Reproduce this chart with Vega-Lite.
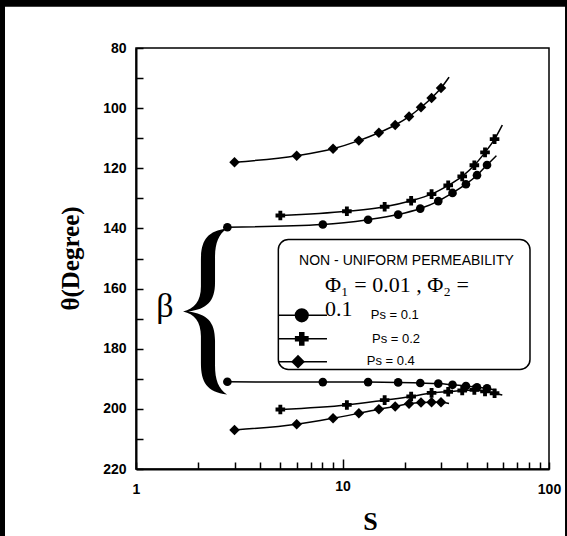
{
  "$schema": "https://vega.github.io/schema/vega-lite/v6.json",
  "width": 413,
  "height": 421,
  "autosize": {"type": "none"},
  "padding": {"left": 136, "top": 48, "right": 18, "bottom": 67},
  "background": "white",
  "config": {
    "view": {"stroke": "black", "strokeWidth": 1.5},
    "axis": {"grid": false, "domainColor": "black", "domainWidth": 2, "tickColor": "black", "tickWidth": 1.5, "labelColor": "black", "titleColor": "black"}
  },
  "data": {"values": [{}]},
  "datasets": {
    "series": [
      {"S": 2.77, "theta": 139.6, "Ps": "0.1", "branch": "upper", "marker": true},
      {"S": 8.03, "theta": 138.7, "Ps": "0.1", "branch": "upper", "marker": true},
      {"S": 13.3, "theta": 137.1, "Ps": "0.1", "branch": "upper", "marker": true},
      {"S": 18.6, "theta": 135.4, "Ps": "0.1", "branch": "upper", "marker": true},
      {"S": 23.8, "theta": 133.4, "Ps": "0.1", "branch": "upper", "marker": true},
      {"S": 29.1, "theta": 130.9, "Ps": "0.1", "branch": "upper", "marker": true},
      {"S": 34.1, "theta": 128.2, "Ps": "0.1", "branch": "upper", "marker": true},
      {"S": 39.6, "theta": 125.3, "Ps": "0.1", "branch": "upper", "marker": true},
      {"S": 44.8, "theta": 122.3, "Ps": "0.1", "branch": "upper", "marker": true},
      {"S": 50.1, "theta": 118.9, "Ps": "0.1", "branch": "upper", "marker": true},
      {"S": 55.6, "theta": 115.8, "Ps": "0.1", "branch": "upper", "marker": false},
      {"S": 5, "theta": 135.7, "Ps": "0.2", "branch": "upper", "marker": true},
      {"S": 10.5, "theta": 134.3, "Ps": "0.2", "branch": "upper", "marker": true},
      {"S": 16, "theta": 132.8, "Ps": "0.2", "branch": "upper", "marker": true},
      {"S": 21.5, "theta": 130.8, "Ps": "0.2", "branch": "upper", "marker": true},
      {"S": 27, "theta": 128.6, "Ps": "0.2", "branch": "upper", "marker": true},
      {"S": 32.5, "theta": 125.7, "Ps": "0.2", "branch": "upper", "marker": true},
      {"S": 38, "theta": 122.7, "Ps": "0.2", "branch": "upper", "marker": true},
      {"S": 43.5, "theta": 119.0, "Ps": "0.2", "branch": "upper", "marker": true},
      {"S": 49, "theta": 114.7, "Ps": "0.2", "branch": "upper", "marker": true},
      {"S": 54.5, "theta": 110.3, "Ps": "0.2", "branch": "upper", "marker": true},
      {"S": 59.4, "theta": 105.6, "Ps": "0.2", "branch": "upper", "marker": false},
      {"S": 3, "theta": 118.0, "Ps": "0.4", "branch": "upper", "marker": true},
      {"S": 6, "theta": 115.8, "Ps": "0.4", "branch": "upper", "marker": true},
      {"S": 9, "theta": 113.5, "Ps": "0.4", "branch": "upper", "marker": true},
      {"S": 12, "theta": 110.8, "Ps": "0.4", "branch": "upper", "marker": true},
      {"S": 15, "theta": 108.2, "Ps": "0.4", "branch": "upper", "marker": true},
      {"S": 18, "theta": 105.6, "Ps": "0.4", "branch": "upper", "marker": true},
      {"S": 21, "theta": 102.8, "Ps": "0.4", "branch": "upper", "marker": true},
      {"S": 24, "theta": 99.7, "Ps": "0.4", "branch": "upper", "marker": true},
      {"S": 27, "theta": 96.6, "Ps": "0.4", "branch": "upper", "marker": true},
      {"S": 30, "theta": 93.3, "Ps": "0.4", "branch": "upper", "marker": true},
      {"S": 32.8, "theta": 89.7, "Ps": "0.4", "branch": "upper", "marker": false},
      {"S": 2.77, "theta": 191.0, "Ps": "0.1", "branch": "lower", "marker": true},
      {"S": 8.03, "theta": 191.1, "Ps": "0.1", "branch": "lower", "marker": true},
      {"S": 13.3, "theta": 191.1, "Ps": "0.1", "branch": "lower", "marker": true},
      {"S": 18.6, "theta": 191.2, "Ps": "0.1", "branch": "lower", "marker": true},
      {"S": 23.8, "theta": 191.4, "Ps": "0.1", "branch": "lower", "marker": true},
      {"S": 29.1, "theta": 191.6, "Ps": "0.1", "branch": "lower", "marker": true},
      {"S": 34.1, "theta": 192.0, "Ps": "0.1", "branch": "lower", "marker": true},
      {"S": 39.6, "theta": 192.4, "Ps": "0.1", "branch": "lower", "marker": true},
      {"S": 44.8, "theta": 192.8, "Ps": "0.1", "branch": "lower", "marker": true},
      {"S": 50.1, "theta": 193.2, "Ps": "0.1", "branch": "lower", "marker": true},
      {"S": 55.6, "theta": 193.8, "Ps": "0.1", "branch": "lower", "marker": false},
      {"S": 5, "theta": 200.2, "Ps": "0.2", "branch": "lower", "marker": true},
      {"S": 10.5, "theta": 198.7, "Ps": "0.2", "branch": "lower", "marker": true},
      {"S": 16, "theta": 197.1, "Ps": "0.2", "branch": "lower", "marker": true},
      {"S": 21.5, "theta": 195.9, "Ps": "0.2", "branch": "lower", "marker": true},
      {"S": 27, "theta": 194.7, "Ps": "0.2", "branch": "lower", "marker": true},
      {"S": 32.5, "theta": 194.3, "Ps": "0.2", "branch": "lower", "marker": true},
      {"S": 38, "theta": 193.9, "Ps": "0.2", "branch": "lower", "marker": true},
      {"S": 43.5, "theta": 193.7, "Ps": "0.2", "branch": "lower", "marker": true},
      {"S": 49, "theta": 194.2, "Ps": "0.2", "branch": "lower", "marker": true},
      {"S": 54.5, "theta": 194.8, "Ps": "0.2", "branch": "lower", "marker": true},
      {"S": 59.4, "theta": 195.4, "Ps": "0.2", "branch": "lower", "marker": false},
      {"S": 3, "theta": 207.0, "Ps": "0.4", "branch": "lower", "marker": true},
      {"S": 6, "theta": 205.1, "Ps": "0.4", "branch": "lower", "marker": true},
      {"S": 9, "theta": 203.1, "Ps": "0.4", "branch": "lower", "marker": true},
      {"S": 12, "theta": 201.5, "Ps": "0.4", "branch": "lower", "marker": true},
      {"S": 15, "theta": 200.1, "Ps": "0.4", "branch": "lower", "marker": true},
      {"S": 18, "theta": 199.2, "Ps": "0.4", "branch": "lower", "marker": true},
      {"S": 21, "theta": 198.3, "Ps": "0.4", "branch": "lower", "marker": true},
      {"S": 24, "theta": 197.9, "Ps": "0.4", "branch": "lower", "marker": true},
      {"S": 27, "theta": 197.8, "Ps": "0.4", "branch": "lower", "marker": true},
      {"S": 30, "theta": 197.8, "Ps": "0.4", "branch": "lower", "marker": true},
      {"S": 32.8, "theta": 198.2, "Ps": "0.4", "branch": "lower", "marker": false}
    ]
  },
  "encoding": {
    "x": {
      "type": "quantitative",
      "scale": {"type": "log", "domain": [1, 100], "nice": false},
      "axis": {
        "title": "S",
        "values": [1, 2, 3, 4, 5, 6, 7, 8, 9, 10, 20, 30, 40, 50, 60, 70, 80, 90, 100],
        "format": "d",
        "labelExpr": "indexof([1, 10, 100], datum.value) >= 0 ? datum.label : ''",
        "labelFlush": false,
        "labelOverlap": false,
        "labelFont": "Liberation Sans",
        "labelFontWeight": "bold",
        "labelFontSize": 14,
        "tickSize": {"condition": {"test": "datum.value == 10", "value": -10}, "value": -7},
        "labelPadding": 20,
        "titleFont": "Liberation Serif",
        "titleFontWeight": "bold",
        "titleFontSize": 26,
        "titleX": 234,
        "titleY": 60,
        "titleBaseline": "alphabetic"
      }
    },
    "y": {
      "type": "quantitative",
      "scale": {"domain": [80, 220], "reverse": true, "nice": false, "zero": false},
      "axis": {
        "title": "θ(Degree)",
        "values": [80, 90, 100, 110, 120, 130, 140, 150, 160, 170, 180, 190, 200, 210, 220],
        "labelExpr": "datum.value % 20 == 0 ? datum.label : ''",
        "labelFlush": false,
        "labelOverlap": false,
        "labelFont": "Liberation Sans",
        "labelFontWeight": "bold",
        "labelFontSize": 14,
        "tickSize": -7,
        "labelPadding": 17,
        "titleFont": "Liberation Serif",
        "titleFontWeight": "bold",
        "titleFontSize": 25,
        "titleX": -58,
        "titleY": 210,
        "titleAngle": -90,
        "titleAlign": "center",
        "titleBaseline": "alphabetic"
      }
    }
  },
  "layer": [
    {
      "mark": {"type": "rule", "color": "black", "strokeWidth": 7},
      "encoding": {"x": {"datum": 0.1}, "x2": {"datum": 200}, "y": {"datum": 65.1}}
    },
    {
      "mark": {"type": "rule", "color": "black", "strokeWidth": 5},
      "encoding": {"x": {"datum": 0.2257}, "y": {"datum": 60}, "y2": {"datum": 250}}
    },
    {
      "mark": {"type": "rule", "color": "black", "strokeWidth": 2},
      "encoding": {"x": {"datum": 120.9}, "y": {"datum": 60}, "y2": {"datum": 250}}
    },
    {
      "data": {"name": "series"},
      "mark": {"type": "line", "color": "black", "strokeWidth": 1.5, "interpolate": "monotone"},
      "encoding": {
        "x": {"field": "S", "type": "quantitative"},
        "y": {"field": "theta", "type": "quantitative"},
        "detail": [{"field": "Ps"}, {"field": "branch"}]
      }
    },
    {
      "data": {"name": "series"},
      "transform": [{"filter": "datum.marker"}],
      "mark": {"type": "point", "filled": true, "color": "black", "opacity": 1},
      "encoding": {
        "x": {"field": "S", "type": "quantitative"},
        "y": {"field": "theta", "type": "quantitative"},
        "shape": {"field": "Ps", "type": "nominal", "scale": {"domain": ["0.1", "0.2", "0.4"], "range": ["circle", "cross", "diamond"]}, "legend": null},
        "size": {"field": "Ps", "type": "nominal", "scale": {"domain": ["0.1", "0.2", "0.4"], "range": [75, 110, 100]}, "legend": null}
      }
    },
    {
      "mark": {"type": "rect", "fill": "white", "stroke": "black", "strokeWidth": 1.5, "cornerRadius": 10},
      "encoding": {"x": {"datum": 4.89}, "x2": {"datum": 80.9}, "y": {"datum": 143.7}, "y2": {"datum": 186.9}}
    },
    {
      "mark": {"type": "rule", "color": "black", "strokeWidth": 1.5},
      "encoding": {"x": {"datum": 4.89}, "x2": {"datum": 8.41}, "y": {"datum": 168.9}}
    },
    {
      "mark": {"type": "rule", "color": "black", "strokeWidth": 1.5},
      "encoding": {"x": {"datum": 4.89}, "x2": {"datum": 8.41}, "y": {"datum": 176.7}}
    },
    {
      "mark": {"type": "rule", "color": "black", "strokeWidth": 1.5},
      "encoding": {"x": {"datum": 4.89}, "x2": {"datum": 8.41}, "y": {"datum": 184.3}}
    },
    {
      "mark": {"type": "point", "shape": "circle", "filled": true, "color": "black", "opacity": 1, "size": 200},
      "encoding": {"x": {"datum": 6.35}, "y": {"datum": 168.9}}
    },
    {
      "mark": {"type": "point", "shape": "cross", "filled": true, "color": "black", "opacity": 1, "size": 190},
      "encoding": {"x": {"datum": 6.35}, "y": {"datum": 176.7}}
    },
    {
      "mark": {"type": "point", "shape": "diamond", "filled": true, "color": "black", "opacity": 1, "size": 190},
      "encoding": {"x": {"datum": 6.09}, "y": {"datum": 184.3}}
    },
    {
      "mark": {"type": "text", "text": "NON - UNIFORM PERMEABILITY", "font": "Liberation Sans", "fontSize": 14, "align": "center", "baseline": "middle", "color": "black"},
      "encoding": {"x": {"datum": 20.4}, "y": {"datum": 150.7}}
    },
    {
      "mark": {"type": "text", "text": "Φ₁ = 0.01 , Φ₂ =", "font": "Liberation Serif", "fontSize": 22, "align": "left", "baseline": "alphabetic", "color": "black"},
      "encoding": {"x": {"datum": 8.23}, "y": {"datum": 161.0}}
    },
    {
      "mark": {"type": "text", "text": "0.1", "font": "Liberation Serif", "fontSize": 22, "align": "left", "baseline": "alphabetic", "color": "black"},
      "encoding": {"x": {"datum": 8.23}, "y": {"datum": 169.0}}
    },
    {
      "mark": {"type": "text", "text": "Ps = 0.1", "font": "Liberation Sans", "fontSize": 13, "align": "left", "baseline": "middle", "color": "black"},
      "encoding": {"x": {"datum": 13.7}, "y": {"datum": 168.9}}
    },
    {
      "mark": {"type": "text", "text": "Ps = 0.2", "font": "Liberation Sans", "fontSize": 13, "align": "left", "baseline": "middle", "color": "black"},
      "encoding": {"x": {"datum": 13.9}, "y": {"datum": 176.7}}
    },
    {
      "mark": {"type": "text", "text": "Ps = 0.4", "font": "Liberation Sans", "fontSize": 13, "align": "left", "baseline": "middle", "color": "black"},
      "encoding": {"x": {"datum": 13.1}, "y": {"datum": 184.1}}
    },
    {
      "mark": {
        "type": "point",
        "filled": true,
        "color": "black",
        "opacity": 1,
        "strokeWidth": 0,
        "size": 27556,
        "shape": "M0.265,-1C0.02,-0.97,-0.05,-0.85,-0.05,-0.62L-0.05,-0.3C-0.05,-0.12,-0.13,-0.03,-0.265,0C-0.13,0.03,-0.05,0.12,-0.05,0.3L-0.05,0.62C-0.05,0.85,0.02,0.97,0.265,1C0.16,0.93,0.12,0.82,0.12,0.65L0.12,0.35C0.12,0.12,0.02,0.03,-0.2,0C0.02,-0.03,0.12,-0.12,0.12,-0.35L0.12,-0.65C0.12,-0.82,0.16,-0.93,0.265,-1Z"
      },
      "encoding": {"x": {"datum": 2.16}, "y": {"datum": 167.6}}
    },
    {
      "mark": {"type": "text", "text": "β", "font": "Liberation Serif", "fontSize": 34, "align": "center", "baseline": "middle", "color": "black"},
      "encoding": {"x": {"datum": 1.38}, "y": {"datum": 166.0}}
    }
  ]
}
